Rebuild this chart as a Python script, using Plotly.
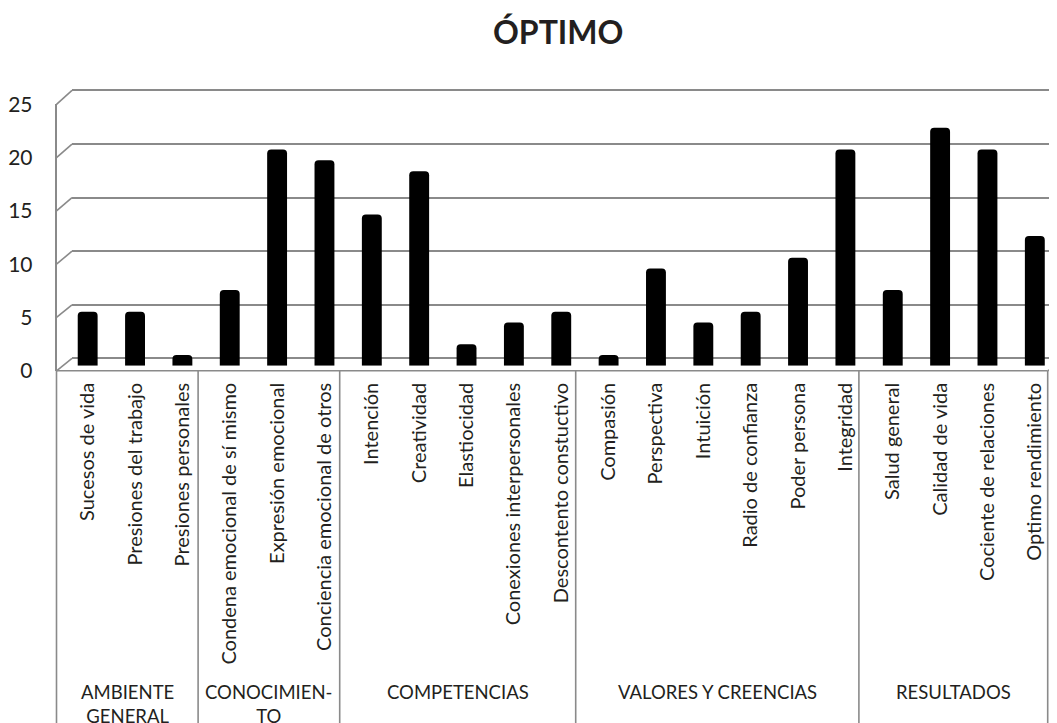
import plotly.graph_objects as go

# ---------------- data ----------------
categories = [
    "Sucesos de vida", "Presiones del trabajo", "Presiones personales",
    "Condena emocional de sí mismo", "Expresión emocional", "Conciencia emocional de otros",
    "Intención", "Creatividad", "Elastiocidad", "Conexiones interpersonales", "Descontento constuctivo",
    "Compasión", "Perspectiva", "Intuición", "Radio de confianza", "Poder persona", "Integridad",
    "Salud general", "Calidad de vida", "Cociente de relaciones", "Optimo rendimiento",
]
values = [5, 5, 1, 7, 20, 19, 14, 18, 2, 4, 5, 1, 9, 4, 5, 10, 20, 7, 22, 20, 12]
group_names = ["AMBIENTE<br>GENERAL", "CONOCIMIEN-<br>TO", "COMPETENCIAS",
               "VALORES Y CREENCIAS", "RESULTADOS"]
group_sizes = [3, 3, 5, 6, 4]
y_ticks = [0, 5, 10, 15, 20, 25]
title_text = "ÓPTIMO"

# ---------------- layout helpers ----------------
W, H = 1057, 723
# compensation for the page offset / scaling observed in the rendering
OX, OY, SY = 8.0, 21.0, 0.973

def px(x):
    return (x - OX) / W

def py(y):
    return 1 - ((y - OY) / SY) / H

FONT = "Lato"
TXT = "#231f20"
GRID = "#8a8a8a"
YMAX = 25

# back wall (grid): value 0 at 360px, 25 at 90px
back0, back25 = 360.0, 90.0
# bars: 0 at 367.5px, 25 at 95px
bar0, bar25 = 367.5, 95.0
# front axis (tick labels): 0 at 372.5, 25 at 104
front0, front25 = 372.5, 104.0
front_left = 56.5
back_left = 72.0
band = 47.2

pad = 0.2
kb = (back0 - back25) / YMAX

fig = go.Figure()

# subplot 1: back-wall grid (drawn first, under the bars)
fig.add_trace(go.Scatter(x=[0.5], y=[0], xaxis="x", yaxis="y", mode="markers",
                         marker=dict(opacity=0), hoverinfo="skip", showlegend=False))
# subplot 2: bars
fig.add_trace(go.Bar(x=categories, y=values, xaxis="x2", yaxis="y2",
                     marker=dict(color="#000000", line=dict(width=0), cornerradius=4),
                     hoverinfo="x+y", showlegend=False))
# subplot 3: front value axis with tick labels
fig.add_trace(go.Scatter(x=[0.5], y=[0], xaxis="x3", yaxis="y3", mode="markers",
                         marker=dict(opacity=0), hoverinfo="skip", showlegend=False))

fig.update_layout(
    width=W, height=H, autosize=False,
    margin=dict(l=0, r=0, t=0, b=0, pad=0),
    paper_bgcolor="white", plot_bgcolor="rgba(0,0,0,0)",
    bargap=0.58,
    xaxis=dict(domain=[px(back_left), 1], range=[0, 1], visible=False),
    yaxis=dict(domain=[py(back0 + pad * kb), py(back25 - pad * kb)], range=[-pad, YMAX + pad],
               anchor="x", showgrid=True, gridcolor=GRID, gridwidth=1.6,
               tickvals=y_ticks, showticklabels=False, ticks="", zeroline=False, showline=False),
    xaxis2=dict(domain=[px(64), px(1058.5)], range=[-0.5, len(categories) - 0.5], anchor="y2",
                type="category", tickangle=-90, ticks="", showline=False, showgrid=False,
                ticklabelstandoff=12,
                tickfont=dict(family=FONT, size=20, color=TXT)),
    yaxis2=dict(domain=[py(bar0), py(bar25)], range=[0, YMAX], anchor="x2", visible=False),
    xaxis3=dict(domain=[px(front_left), px(front_left + 4)], range=[0, 1], visible=False),
    yaxis3=dict(domain=[py(front0), py(front25)], range=[0, YMAX], anchor="x3",
                showline=True, linecolor=GRID, linewidth=1.6, ticks="",
                tickvals=y_ticks, showgrid=False, zeroline=False, ticklabelstandoff=18,
                tickfont=dict(family=FONT, size=21, color=TXT)),
)

shapes = []
line_style = dict(color=GRID, width=1.6)
# left wall connectors between front axis and back wall grid
for v in y_ticks:
    yf = front0 - v * (front0 - front25) / YMAX
    yb = back0 - v * (back0 - back25) / YMAX
    shapes.append(dict(type="line", xref="paper", yref="paper",
                       x0=px(front_left), y0=py(yf), x1=px(back_left), y1=py(yb), line=line_style))

# group boundaries on the front floor edge
bounds = [front_left]
for s in group_sizes:
    bounds.append(bounds[-1] + s * band)
right_end = bounds[-1]
shapes.append(dict(type="line", xref="paper", yref="paper",
                   x0=px(front_left), y0=py(front0), x1=px(right_end), y1=py(front0), line=line_style))
shapes.append(dict(type="line", xref="paper", yref="paper",
                   x0=px(right_end), y0=py(front0), x1=px(right_end + (back_left - front_left)),
                   y1=py(front0 - 0.55 * (front0 - back0)), line=line_style))
for b in bounds:
    shapes.append(dict(type="line", xref="paper", yref="paper",
                       x0=px(b), y0=py(front0), x1=px(b), y1=-0.05, line=line_style))
fig.update_layout(shapes=shapes)

annotations = []
for i, name in enumerate(group_names):
    cx = (bounds[i] + bounds[i + 1]) / 2
    annotations.append(dict(xref="paper", yref="paper", x=px(cx), y=py(683),
                            xanchor="center", yanchor="top", showarrow=False, text=name,
                            font=dict(family=FONT, size=18.5, color=TXT)))
annotations.append(dict(xref="paper", yref="paper", x=px(558), y=py(31),
                        xanchor="center", yanchor="middle", showarrow=False,
                        text="<b>" + title_text + "</b>",
                        font=dict(family=FONT, size=32, color=TXT)))
fig.update_layout(annotations=annotations)

fig.write_html("out.html")
